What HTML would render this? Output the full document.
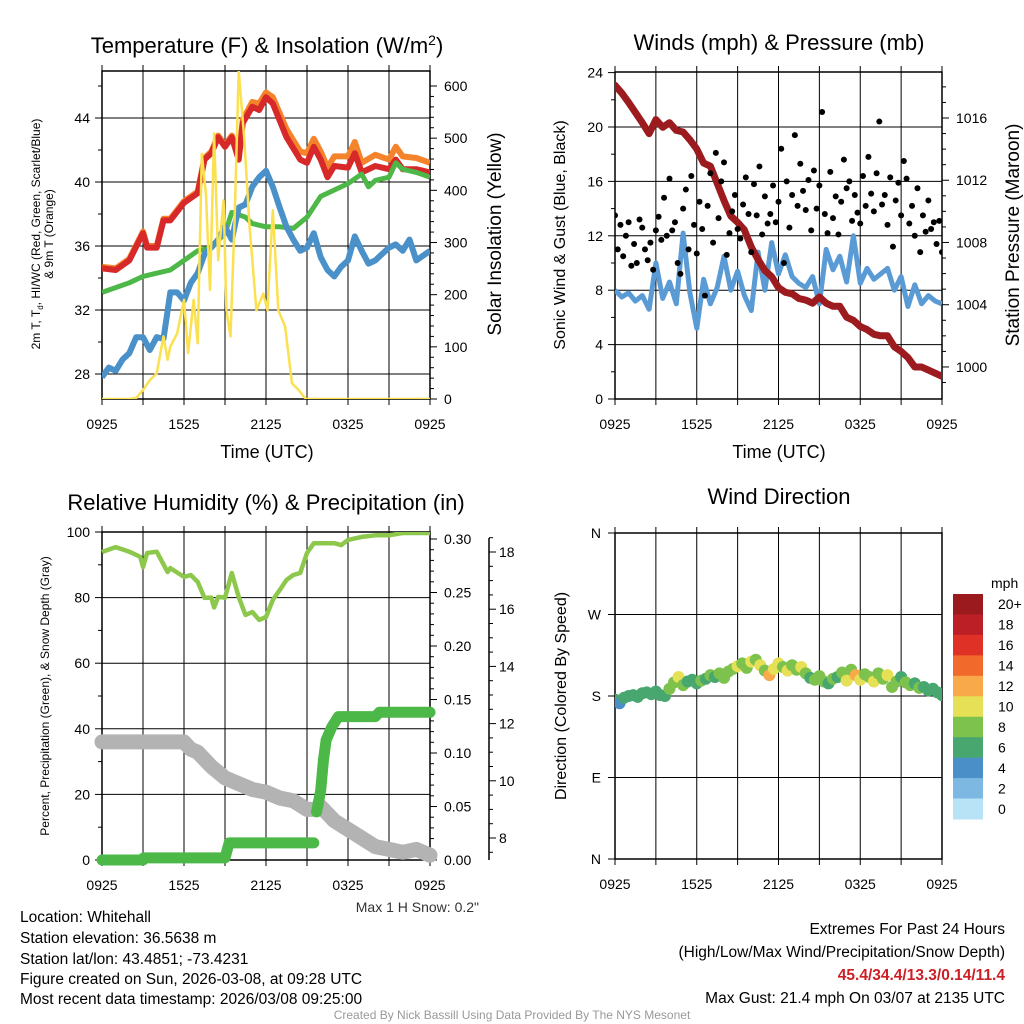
<!DOCTYPE html>
<html><head><meta charset="utf-8"><style>
html,body{margin:0;padding:0;background:#fff;}
svg{display:block;font-family:"Liberation Sans",Arial,sans-serif;}
</style></head><body>
<svg id="chart" width="1024" height="1024" viewBox="0 0 1024 1024" xmlns="http://www.w3.org/2000/svg">
<rect x="0" y="0" width="1024" height="1024" fill="#fff"/>
<g id="layer"></g>
<text x="267" y="53" font-size="22" text-anchor="middle">Temperature (F) &amp; Insolation (W/m<tspan dy="-8" font-size="14">2</tspan><tspan dy="8">)</tspan></text>
<text x="779" y="50" font-size="22" text-anchor="middle">Winds (mph) &amp; Pressure (mb)</text>
<text x="266" y="510" font-size="22" text-anchor="middle">Relative Humidity (%) &amp; Precipitation (in)</text>
<text x="779" y="504" font-size="22" text-anchor="middle">Wind Direction</text>
<text x="267" y="458" font-size="18" text-anchor="middle">Time (UTC)</text>
<text x="779" y="458" font-size="18" text-anchor="middle">Time (UTC)</text>
<text transform="translate(40,234) rotate(-90)" font-size="12" text-anchor="middle"><tspan x="0" y="0">2m T, T<tspan font-size="8" dy="3">d</tspan><tspan dy="-3">, HI/WC (Red, Green, Scarlet/Blue)</tspan></tspan><tspan x="0" y="13">&amp; 9m T (Orange)</tspan></text>
<text transform="translate(501,234) rotate(-90)" font-size="19" text-anchor="middle">Solar Insolation (Yellow)</text>
<text transform="translate(565,235) rotate(-90)" font-size="16" text-anchor="middle">Sonic Wind &amp; Gust (Blue, Black)</text>
<text transform="translate(1019,235) rotate(-90)" font-size="19" text-anchor="middle">Station Pressure (Maroon)</text>
<text transform="translate(49,696) rotate(-90)" font-size="12" text-anchor="middle">Percent, Precipitation (Green), &amp; Snow Depth (Gray)</text>
<text transform="translate(566,696) rotate(-90)" font-size="16" text-anchor="middle">Direction (Colored By Speed)</text>
<text x="479" y="912" font-size="14" fill="#333" text-anchor="end">Max 1 H Snow: 0.2"</text>
<text x="991" y="588" font-size="14">mph</text>
<g font-size="15.5">
<text x="20" y="922">Location: Whitehall</text>
<text x="20" y="943">Station elevation: 36.5638 m</text>
<text x="20" y="964">Station lat/lon: 43.4851; -73.4231</text>
<text x="20" y="984">Figure created on Sun, 2026-03-08, at 09:28 UTC</text>
<text x="20" y="1004">Most recent data timestamp: 2026/03/08 09:25:00</text>
</g>
<g font-size="15.5" text-anchor="end">
<text x="1005" y="934">Extremes For Past 24 Hours</text>
<text x="1005" y="957">(High/Low/Max Wind/Precipitation/Snow Depth)</text>
<text x="1005" y="980" fill="#cc2027" font-weight="bold">45.4/34.4/13.3/0.14/11.4</text>
<text x="1005" y="1003">Max Gust: 21.4 mph On 03/07 at 2135 UTC</text>
</g>
<text x="512" y="1019" font-size="12" fill="#999" text-anchor="middle">Created By Nick Bassill Using Data Provided By The NYS Mesonet</text>
</svg>
<script>
// ---- data ----
const xTickLabels = ["0925","1525","2125","0325","0925"];
const tempHours = [0,1,2,3,3.3,4,4.5,5,6,7,7.5,8,8.5,9,9.5,10,10.3,11,11.5,12,12.5,13.5,14.5,15,15.5,16,16.5,17,18,18.5,19,20,21,21.5,22,23,24];
const tempRed = [34.6,34.5,35.1,36.8,35.9,35.9,37.6,37.6,38.7,39.3,41.4,41.8,42.8,42.2,42.8,41.4,43.7,44.7,44.5,45.3,44.9,42.8,41.4,41.2,42.2,41.4,40.3,41.0,40.9,41.8,40.6,41.0,40.8,41.4,40.8,40.8,40.6];
const temp9m = [34.7,34.6,35.2,36.9,36.0,36.0,37.7,37.7,38.8,39.4,41.5,41.9,42.9,42.3,42.9,41.5,43.9,45.0,44.9,45.6,45.3,43.3,41.9,41.8,42.7,41.9,40.9,41.6,41.6,42.5,41.2,41.7,41.4,42.2,41.6,41.5,41.2];
const dewHours = [0,2,3,4,5,6,7,8,9,9.5,10.5,11,12,13,14,15,16,17,18,19,19.5,20,21,21.5,22,23,24];
const dewGreen = [33.1,33.7,34.1,34.3,34.5,35.1,35.7,35.9,36.8,38.1,37.8,37.4,37.2,37.2,37.1,37.8,39.1,39.5,39.9,40.5,39.7,40.1,40.3,41.2,40.8,40.6,40.3];
const wcHours = [0,0.5,1,1.5,2,2.5,3,3.5,4,4.5,5,5.5,6,6.5,7,7.5,8,8.5,9,9.5,10,10.5,11,11.5,12,12.5,13,13.5,14,14.5,15,15.5,16,16.5,17,17.5,18,18.5,19,19.5,20,21,21.5,22,22.5,23,24];
const wcBlue = [27.8,28.4,28.2,28.9,29.3,30.3,30.3,29.5,30.3,30.2,33.1,33.1,32.6,33.7,34.3,35.5,35.9,36.4,37.2,36.4,38.4,38.6,39.7,40.3,40.7,39.7,38.4,37.2,36.4,35.7,35.9,36.8,35.3,34.5,34.1,34.7,35.1,36.6,35.7,34.9,35.1,35.9,36.1,35.7,36.4,35.1,35.7];
const solarHours = [0,1,2,2.5,3,3.5,4,4.5,4.8,5,5.5,6,6.3,6.7,7,7.3,7.6,7.9,8.2,8.5,8.9,9.1,9.4,9.7,10.0,10.4,10.8,11.3,11.8,12.1,12.5,12.9,13.4,13.9,14.4,14.9,16,20,24];
const solarW = [0,0,0,2,17,36,49,120,75,100,126,190,88,190,107,470,394,209,509,266,381,170,120,343,630,503,330,170,202,170,362,170,139,30,17,0,0,0,0];
const presHours = [0,0.5,1,2,2.5,3,3.5,4,4.5,5,5.5,6,6.5,7,7.5,8,8.5,9,9.5,10,10.5,11,11.5,12,12.5,13,13.5,14,14.5,15,15.5,16,16.5,17,17.5,18,18.5,19,19.5,20,20.5,21,21.5,22,22.5,23,23.5,24];
const presMb = [1018.1,1017.6,1017.0,1015.7,1015.0,1015.9,1015.4,1015.7,1015.2,1015.1,1014.6,1014.0,1013.1,1012.9,1011.8,1010.7,1009.7,1009.3,1008.8,1007.7,1006.9,1006.2,1005.8,1005.1,1004.8,1004.7,1004.4,1004.3,1004.1,1004.5,1004.1,1003.9,1003.9,1003.2,1003.0,1002.6,1002.4,1002.1,1002.0,1002.0,1001.3,1001.0,1000.6,1000.0,1000.0,999.8,999.6,999.4];
const windMph = [8.0,7.5,7.8,7.2,7.6,6.6,10.0,7.4,8.6,7.0,12.2,7.8,5.2,8.8,7.0,8.2,10.5,8.0,9.4,7.6,6.5,10.8,8.0,11.5,9.2,10.6,9.0,8.5,8.2,9.0,7.0,11.0,9.5,10.5,8.6,12.0,8.5,9.6,8.8,9.2,9.6,8.0,9.0,6.8,8.4,7.0,7.6,7.2,7.0];
const gustMph = [13.5,11,12.8,10.5,12,13,9.8,11.4,10,13.2,12.6,11,10.2,11.5,9.5,12.4,13.4,11.7,14.8,12,16.2,12.4,13,10,9.2,14,15.4,11,16.4,12.8,10.7,14.5,12.5,7.6,14.2,16.6,11.5,18.1,13.3,16,17.4,10.6,12.2,13.8,15,12.5,11.8,14.3,16.3,13.6,10.8,15.8,13.5,17.1,12.1,14.9,12.9,13.6,15.7,13,14.5,18.4,10,16,12.6,15,19.4,14.2,17.3,15.3,13.9,16.1,12.4,16.8,14,15.7,21.1,13.6,12.2,16.7,13.3,14.9,12.1,14.5,17.6,15.5,16,13.1,15,13.7,12.9,16.4,14.2,17.8,15.1,13.8,16.6,20.4,14.3,15,12.8,16.3,11.2,14.6,15.9,13.5,17.5,16.2,12.9,14.2,12,15.5,10.8,13.5,12.3,14.6,12.5,13,11.4,13.1,10.8];
const rhHours = [0,1,2,2.8,3,3.3,4,4.8,5,6,6.5,7,7.5,8,8.2,8.5,9,9.5,10,10.5,11,11.5,12,12.5,13,13.5,14,14.5,15,15.5,16,17,17.5,18,19,20,21,22,24];
const rhPct = [93.9,95.4,94,92.4,89.3,93.6,94,87.8,89,86.3,86.9,84.8,79.9,80,77,80.2,80,87.5,80.2,74.7,75.6,73.2,74.1,79.3,82.3,85.4,86.9,87.5,93.6,96.6,96.6,96.6,96,97.6,98.5,99,99,99.7,99.7];
const precipHours = [0,3,3.05,9,9.3,15.5,null,15.7,16,16.2,16.4,16.8,17.3,20,20.3,24];
const precipIn = [0,0,0.002,0.002,0.016,0.016,null,0.045,0.065,0.093,0.112,0.124,0.134,0.134,0.138,0.138];
const snowHours = [0,6,6.5,7,8,9,10,11,12,13,14,15,15.5,16,17,18,19,20,21,22,23,24];
const snowIn = [11.36,11.36,11.1,11.0,10.5,10.1,9.9,9.7,9.6,9.4,9.3,9.0,9.0,9.1,8.6,8.3,8.0,7.7,7.6,7.5,7.6,7.4];
const dirDeg = [176,172,178,180,181,179,183,184,182,185,181,180,188,195,201,192,196,198,194,197,199,203,201,205,200,207,210,213,216,211,218,220,214,208,203,210,216,212,208,214,209,212,205,200,198,202,196,194,199,201,206,197,209,203,198,204,201,196,205,199,203,190,196,201,195,192,194,189,190,186,188,184,181];
const dirSpeed = [6,5,6,6,7,6,7,7,6,7,6,7,8,9,10,8,7,6,7,8,7,8,7,8,9,8,9,10,8,9,10,9,11,8,12,11,10,9,10,9,8,10,9,7,8,9,8,7,8,7,9,10,9,12,10,9,8,10,9,8,11,8,9,7,8,9,7,8,7,6,7,6,6];
const speedLabels = ["20+","18","16","14","12","10","8","6","4","2","0"];
const speedColors = ["#9b1a1e","#bd1f26","#e03127","#f26a2b","#f8a94a","#e6e056","#7dc24c","#48a66f","#4a8fc7","#7db8e3","#b8e2f6"];

// ---- helpers ----
const NS="http://www.w3.org/2000/svg";
const layer=document.getElementById('layer');
function mk(tag,attrs,parent){const e=document.createElementNS(NS,tag);for(const k in attrs)e.setAttribute(k,attrs[k]);(parent||layer).appendChild(e);return e;}
function txt(x,y,s,size,anchor,parent){const t=mk('text',{x:x,y:y,'font-size':size,'text-anchor':anchor||'middle'},parent);t.textContent=s;return t;}
function line(x1,y1,x2,y2,parent,w,c){return mk('line',{x1:x1,y1:y1,x2:x2,y2:y2,stroke:c||'#000','stroke-width':w||1},parent);}
function pathFrom(xs,ys,fx,fy){let d='',pen=false;for(let i=0;i<xs.length;i++){if(xs[i]===null){pen=false;continue;}d+=(pen?'L':'M')+fx(xs[i]).toFixed(1)+' '+fy(ys[i]).toFixed(1);pen=true;}return d;}

function frame(name,x0,x1,y0,y1){
  const g=mk('g',{});
  
  
  const fx=h=>x0+h*(x1-x0)/24;
  for(let h=3;h<24;h+=3){line(fx(h),y0,fx(h),y1,g,1);}
  for(let h=0;h<=24;h+=3){line(fx(h),y1,fx(h),y1+6,g,1);line(fx(h),y0,fx(h),y0-6,g,1);}
  xTickLabels.forEach((s,i)=>{txt(fx(i*6),y1+30,s,14,'middle',g);});
  return {g,fx};
}

// ---- Panel 1 ----
(function(){
  const x0=102,x1=430,y0=71,y1=399;
  const {g,fx}=frame('temp',x0,x1,y0,y1);
  const ty=v=>118+(44-v)*16, sy=w=>399-w*(313/600);
  for(let v=28;v<=44;v+=4){line(x0,ty(v),x1,ty(v),g,1);line(x0-7,ty(v),x0,ty(v),g,1);txt(x0-12,ty(v)+5,String(v),14,'end',g);}
  for(let v=28;v<=46;v+=2){if(v%4)line(x0-4,ty(v),x0,ty(v),g,1);}
  for(let w=0;w<=600;w+=20){const maj=w%100===0;line(x1,sy(w),x1+(maj?7:4),sy(w),g,1);if(maj)txt(x1+14,sy(w)+5,String(w),14,'start',g);}
  const cp=mk('clipPath',{id:'c1'});mk('rect',{x:x0,y:y0,width:x1-x0,height:y1-y0},cp);
  const plot=mk('g',{'clip-path':'url(#c1)'});
  let p;
  p=mk('path',{d:pathFrom(tempHours,temp9m,fx,ty),fill:'none',stroke:'#f5832b','stroke-width':6,'stroke-linejoin':'round'},plot);
  
  p=mk('path',{d:pathFrom(tempHours,tempRed,fx,ty),fill:'none',stroke:'#d7282a','stroke-width':6,'stroke-linejoin':'round'},plot);
  
  p=mk('path',{d:pathFrom(dewHours,dewGreen,fx,ty),fill:'none',stroke:'#4db748','stroke-width':5,'stroke-linejoin':'round'},plot);
  
  p=mk('path',{d:pathFrom(wcHours,wcBlue,fx,ty),fill:'none',stroke:'#4a90c9','stroke-width':6,'stroke-linejoin':'round'},plot);
  
  p=mk('path',{d:pathFrom(solarHours,solarW,fx,sy),fill:'none',stroke:'#fbe050','stroke-width':2.5,'stroke-linejoin':'round'},plot);
  
  mk('rect',{x:x0,y:y0,width:x1-x0,height:y1-y0,fill:'none',stroke:'#000','stroke-width':1.5},g);
})();

// ---- Panel 2 ----
(function(){
  const x0=615,x1=942,y0=72,y1=399;
  const {g,fx}=frame('wind',x0,x1,y0,y1);
  const wy=v=>399-v*13.6, py=p=>118+(1016-p)*15.56;
  for(let v=0;v<=24;v+=4){if(v>0&&v<24)line(x0,wy(v),x1,wy(v),g,1);line(x0-7,wy(v),x0,wy(v),g,1);txt(x0-12,wy(v)+5,String(v),14,'end',g);}
  for(let v=2;v<24;v+=4)line(x0-4,wy(v),x0,wy(v),g,1);
  for(let p=999;p<=1018;p++){const maj=p%4===0;line(x1,py(p),x1+(maj?7:4),py(p),g,1);if(maj)txt(x1+14,py(p)+5,String(p),14,'start',g);}
  const cp=mk('clipPath',{id:'c2'});mk('rect',{x:x0,y:y0,width:x1-x0,height:y1-y0},cp);
  const plot=mk('g',{'clip-path':'url(#c2)'});
  const wh=windMph.map((v,i)=>i*24/(windMph.length-1));
  let p=mk('path',{d:pathFrom(wh,windMph,fx,wy),fill:'none',stroke:'#5b9bd5','stroke-width':5,'stroke-linejoin':'round'},plot);
  
  p=mk('path',{d:pathFrom(presHours,presMb,fx,py),fill:'none',stroke:'#9b1b1f','stroke-width':7,'stroke-linejoin':'round','stroke-linecap':'round'},plot);
  
  const gg=mk('g',{},plot);
  
  gustMph.forEach((v,i)=>{const c=mk('circle',{cx:fx(i*24/(gustMph.length-1)),cy:wy(v),r:3,fill:'#000'},gg);
    
    });
  mk('rect',{x:x0,y:y0,width:x1-x0,height:y1-y0,fill:'none',stroke:'#000','stroke-width':1.5},g);
})();

// ---- Panel 3 ----
(function(){
  const x0=102,x1=430,y0=532,y1=860;
  const {g,fx}=frame('rh',x0,x1,y0,y1);
  const ry=v=>860-v*3.28, pry=p=>860-p*1070, sny=s=>838-(s-8)*28.6;
  for(let v=0;v<=100;v+=20){if(v>0&&v<100)line(x0,ry(v),x1,ry(v),g,1);line(x0-7,ry(v),x0,ry(v),g,1);txt(x0-12,ry(v)+5,String(v),14,'end',g);}
  for(let v=10;v<100;v+=20)line(x0-4,ry(v),x0,ry(v),g,1);
  for(let k=0;k<=30;k++){const p=k/100,maj=k%5===0;line(x1,pry(p),x1+(maj?7:4),pry(p),g,1);if(maj)txt(x1+14,pry(p)+5,p.toFixed(2),14,'start',g);}
  const sg=mk('g',{});
  
  line(489,538,489,860,sg,1.5);
  for(let k=15;k<=37;k++){const s=k/2,maj=k%4===0;line(489,sny(s),489+(maj?7:4),sny(s),sg,1);if(maj)txt(499,sny(s)+5,String(s),14,'start',sg);}
  const cp=mk('clipPath',{id:'c3'});mk('rect',{x:x0-8,y:y0,width:x1-x0+16,height:y1-y0+8},cp);
  const plot=mk('g',{'clip-path':'url(#c3)'});
  let p=mk('path',{d:pathFrom(snowHours,snowIn,fx,sny),fill:'none',stroke:'#b3b3b3','stroke-width':15,'stroke-linejoin':'round','stroke-linecap':'round'},plot);
  
  p=mk('path',{d:pathFrom(precipHours,precipIn,fx,pry),fill:'none',stroke:'#4bb848','stroke-width':11,'stroke-linejoin':'round','stroke-linecap':'round'},plot);
  
  p=mk('path',{d:pathFrom(rhHours,rhPct,fx,ry),fill:'none',stroke:'#8dc84d','stroke-width':4.5,'stroke-linejoin':'round'},plot);
  
  mk('rect',{x:x0,y:y0,width:x1-x0,height:y1-y0,fill:'none',stroke:'#000','stroke-width':1.5},g);
})();

// ---- Panel 4 ----
(function(){
  const x0=615,x1=942,y0=533,y1=859;
  const {g,fx}=frame('direction',x0,x1,y0,y1);
  const dy=d=>859-d*(326/360);
  ["N","E","S","W","N"].forEach((s,i)=>{const d=i*90;if(i>0&&i<4)line(x0,dy(d),x1,dy(d),g,1);line(x0-7,dy(d),x0,dy(d),g,1);txt(x0-14,dy(d)+5,s,14,'end',g);});
  const cp=mk('clipPath',{id:'c4'});mk('rect',{x:x0,y:y0,width:x1-x0,height:y1-y0},cp);
  const plot=mk('g',{'clip-path':'url(#c4)'});
  
  dirDeg.forEach((d,i)=>{const sp=dirSpeed[i];const bin=Math.min(10,Math.floor(sp/2));
    const c=mk('circle',{cx:fx(i*24/(dirDeg.length-1)),cy:dy(d),r:6,fill:speedColors[10-bin]},plot);
    
    });
  mk('rect',{x:x0,y:y0,width:x1-x0,height:y1-y0,fill:'none',stroke:'#000','stroke-width':1.5},g);
  const cb=mk('g',{});
  
  const bh=(819-594)/speedColors.length;
  speedColors.forEach((c,i)=>{mk('rect',{x:953,y:594+i*bh,width:30,height:bh+0.5,fill:c},cb);txt(998,594+i*bh+bh/2+5,speedLabels[i],14,'start',cb);});
})();
</script>
</body></html>
